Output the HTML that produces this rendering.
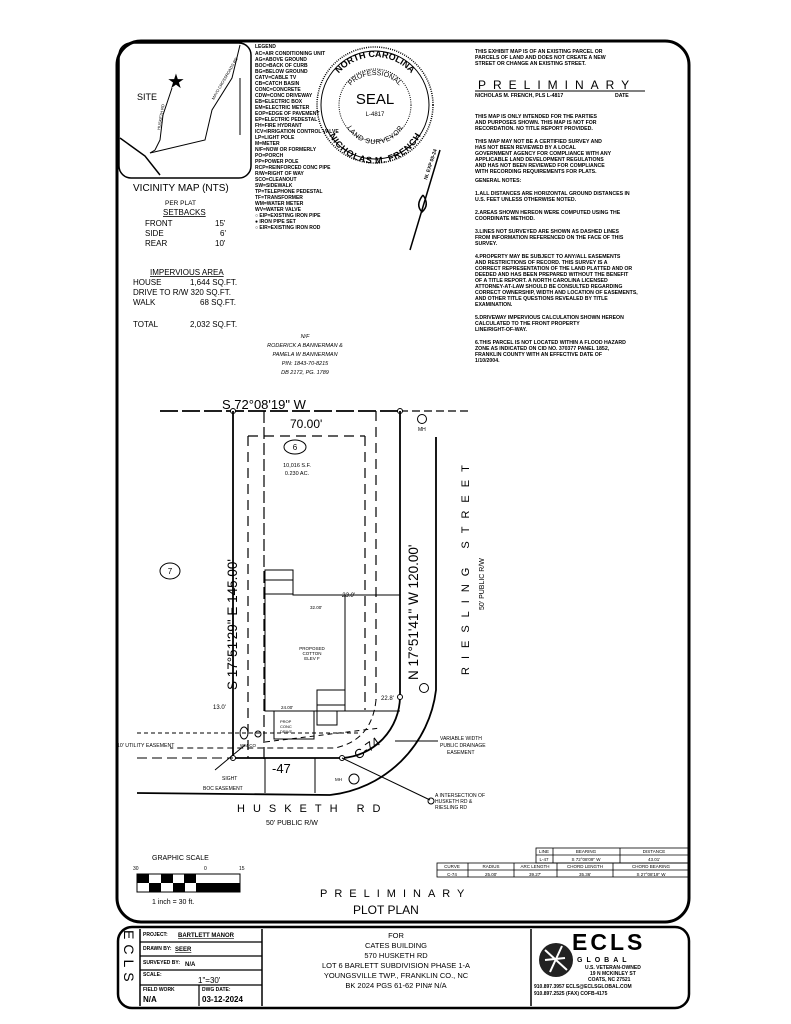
<!DOCTYPE html>
<html><head><meta charset="utf-8"><style>
body{margin:0;background:#fff;}
svg{display:block;font-family:"Liberation Sans",sans-serif;}
.t{font-size:5px;}
</style></head><body>
<svg width="791" height="1024" viewBox="0 0 791 1024" xmlns="http://www.w3.org/2000/svg">
<rect width="791" height="1024" fill="#fff"/>
<defs>
<path id="arcTop" d="M327 105 A48 48 0 0 1 423 105"/>
<path id="arcTop2" d="M342 108 A33 33 0 0 1 408 108"/>
<path id="arcBot" d="M330 112 A45 45 0 0 0 420 112"/>
<path id="arcBot2" d="M347 112 A28 28 0 0 0 403 112"/>
</defs>
<rect x="117" y="41" width="572" height="881" rx="24" fill="none" stroke="#000" stroke-width="3"/>
<!-- vicinity map -->
<rect x="119" y="43" width="132" height="135" rx="12" fill="none" stroke="#000" stroke-width="1.5"/>
<text x="137" y="100" font-size="9">SITE</text>
<text x="167" y="88" font-size="20">★</text>
<path d="M172 88 L163 115 L160 140 L155 150 L150 153" fill="none" stroke="#000"/>
<path d="M120 138 L145 156 L160 175" fill="none" stroke="#000" stroke-width="1.5"/>
<path d="M150 153 L205 140 L212 110 L232 78 L240 45" fill="none" stroke="#000"/>
<path d="M240 78 L240 135" fill="none" stroke="#000"/>
<text transform="translate(160,130) rotate(-80)" font-size="4">HUSKETH RD</text>
<text transform="translate(214,100) rotate(-60)" font-size="4">MAYO CROSSROADS RD</text>
<text x="133" y="191" font-size="10">VICINITY MAP (NTS)</text>
<text x="165" y="205" font-size="6.5">PER PLAT</text>
<text x="163" y="215" font-size="8" text-decoration="underline">SETBACKS</text>
<text x="145" y="226" font-size="8">FRONT</text><text x="215" y="226" font-size="8">15'</text>
<text x="145" y="236" font-size="8">SIDE</text><text x="220" y="236" font-size="8">6'</text>
<text x="145" y="246" font-size="8">REAR</text><text x="215" y="246" font-size="8">10'</text>
<text x="150" y="275" font-size="8" text-decoration="underline">IMPERVIOUS AREA</text>
<text x="133" y="285" font-size="8">HOUSE</text><text x="190" y="285" font-size="8">1,644 SQ.FT.</text>
<text x="133" y="295" font-size="8">DRIVE TO R/W 320 SQ.FT.</text>
<text x="133" y="305" font-size="8">WALK</text><text x="200" y="305" font-size="8">68 SQ.FT.</text>
<text x="133" y="327" font-size="8">TOTAL</text><text x="190" y="327" font-size="8">2,032 SQ.FT.</text>
<!-- legend -->
<g class="t" font-weight="bold">
<text x="255" y="48">LEGEND</text>
<text x="255" y="55">AC=AIR CONDITIONING UNIT</text>
<text x="255" y="61">AG=ABOVE GROUND</text>
<text x="255" y="67">BOC=BACK OF CURB</text>
<text x="255" y="73">BG=BELOW GROUND</text>
<text x="255" y="79">CATV=CABLE TV</text>
<text x="255" y="85">CB=CATCH BASIN</text>
<text x="255" y="91">CONC=CONCRETE</text>
<text x="255" y="97">CDW=CONC DRIVEWAY</text>
<text x="255" y="103">EB=ELECTRIC BOX</text>
<text x="255" y="109">EM=ELECTRIC METER</text>
<text x="255" y="115">EOP=EDGE OF PAVEMENT</text>
<text x="255" y="121">EP=ELECTRIC PEDESTAL</text>
<text x="255" y="127">FH=FIRE HYDRANT</text>
<text x="255" y="133">ICV=IRRIGATION CONTROL VALVE</text>
<text x="255" y="139">LP=LIGHT POLE</text>
<text x="255" y="145">M=METER</text>
<text x="255" y="151">N/F=NOW OR FORMERLY</text>
<text x="255" y="157">PO=PORCH</text>
<text x="255" y="163">PP=POWER POLE</text>
<text x="255" y="169">RCP=REINFORCED CONC PIPE</text>
<text x="255" y="175">R/W=RIGHT OF WAY</text>
<text x="255" y="181">SCO=CLEANOUT</text>
<text x="255" y="187">SW=SIDEWALK</text>
<text x="255" y="193">TP=TELEPHONE PEDESTAL</text>
<text x="255" y="199">TF=TRANSFORMER</text>
<text x="255" y="205">WM=WATER METER</text>
<text x="255" y="211">WV=WATER VALVE</text>
<text x="255" y="217">○ EIP=EXISTING IRON PIPE</text>
<text x="255" y="223">● IRON PIPE SET</text>
<text x="255" y="229">○ EIR=EXISTING IRON ROD</text>
</g>
<!-- seal -->
<circle cx="375" cy="105" r="58" fill="none" stroke="#000" stroke-width="1.5" stroke-dasharray="1 1.2"/>
<circle cx="375" cy="105" r="54" fill="none" stroke="#000" stroke-width="1"/>
<circle cx="375" cy="105" r="36" fill="none" stroke="#000" stroke-width="1" stroke-dasharray="1 1.2"/>
<text x="375" y="104" font-size="15" text-anchor="middle">SEAL</text>
<text x="375" y="116" font-size="6" text-anchor="middle">L-4817</text>
<text font-size="9" font-weight="bold"><textPath href="#arcTop" startOffset="50%" text-anchor="middle">NORTH CAROLINA</textPath></text>
<text font-size="7"><textPath href="#arcTop2" startOffset="50%" text-anchor="middle">PROFESSIONAL</textPath></text>
<text font-size="9" font-weight="bold"><textPath href="#arcBot" startOffset="50%" text-anchor="middle" dominant-baseline="hanging">NICHOLAS M. FRENCH</textPath></text>
<text font-size="7"><textPath href="#arcBot2" startOffset="50%" text-anchor="middle" dominant-baseline="hanging">LAND SURVEYOR</textPath></text>
<path d="M440 150 L410 250" stroke="#000" stroke-width="1.5"/>
<path d="M423 195 Q415 205 422 212 Q430 205 423 195" fill="none" stroke="#000" stroke-width="1.5"/>
<text transform="translate(427,180) rotate(-72)" font-size="5" font-weight="bold">NI. EXP 05-24</text>
<!-- notes -->
<g font-size="5.2" font-weight="bold">
<text x="475" y="53">THIS EXHIBIT MAP IS OF AN EXISTING PARCEL OR</text>
<text x="475" y="59">PARCELS OF LAND AND DOES NOT CREATE A NEW</text>
<text x="475" y="65">STREET OR CHANGE AN EXISTING STREET.</text>
<text x="475" y="97">NICHOLAS M. FRENCH, PLS L-4817</text><text x="615" y="97">DATE</text>
<text x="475" y="118">THIS MAP IS ONLY INTENDED FOR THE PARTIES</text>
<text x="475" y="124">AND PURPOSES SHOWN. THIS MAP IS NOT FOR</text>
<text x="475" y="130">RECORDATION. NO TITLE REPORT PROVIDED.</text>
<text x="475" y="143">THIS MAP MAY NOT BE A CERTIFIED SURVEY AND</text>
<text x="475" y="149">HAS NOT BEEN REVIEWED BY A LOCAL</text>
<text x="475" y="155">GOVERNMENT AGENCY FOR COMPLIANCE WITH ANY</text>
<text x="475" y="161">APPLICABLE LAND DEVELOPMENT REGULATIONS</text>
<text x="475" y="167">AND HAS NOT BEEN REVIEWED FOR COMPLIANCE</text>
<text x="475" y="173">WITH RECORDING REQUIREMENTS FOR PLATS.</text>
<text x="475" y="182">GENERAL NOTES:</text>
<text x="475" y="195">1.ALL DISTANCES ARE HORIZONTAL GROUND DISTANCES IN</text>
<text x="475" y="201">U.S. FEET UNLESS OTHERWISE NOTED.</text>
<text x="475" y="214">2.AREAS SHOWN HEREON WERE COMPUTED USING THE</text>
<text x="475" y="220">COORDINATE METHOD.</text>
<text x="475" y="233">3.LINES NOT SURVEYED ARE SHOWN AS DASHED LINES</text>
<text x="475" y="239">FROM INFORMATION REFERENCED ON THE FACE OF THIS</text>
<text x="475" y="245">SURVEY.</text>
<text x="475" y="258">4.PROPERTY MAY BE SUBJECT TO ANY/ALL EASEMENTS</text>
<text x="475" y="264">AND RESTRICTIONS OF RECORD. THIS SURVEY IS A</text>
<text x="475" y="270">CORRECT REPRESENTATION OF THE LAND PLATTED AND OR</text>
<text x="475" y="276">DEEDED AND HAS BEEN PREPARED WITHOUT THE BENEFIT</text>
<text x="475" y="282">OF A TITLE REPORT. A NORTH CAROLINA LICENSED</text>
<text x="475" y="288">ATTORNEY-AT-LAW SHOULD BE CONSULTED REGARDING</text>
<text x="475" y="294">CORRECT OWNERSHIP, WIDTH AND LOCATION OF EASEMENTS,</text>
<text x="475" y="300">AND OTHER TITLE QUESTIONS REVEALED BY TITLE</text>
<text x="475" y="306">EXAMINATION.</text>
<text x="475" y="319">5.DRIVEWAY IMPERVIOUS CALCULATION SHOWN HEREON</text>
<text x="475" y="325">CALCULATED TO THE FRONT PROPERTY</text>
<text x="475" y="331">LINE/RIGHT-OF-WAY.</text>
<text x="475" y="344">6.THIS PARCEL IS NOT LOCATED WITHIN A FLOOD HAZARD</text>
<text x="475" y="350">ZONE AS INDICATED ON CID NO. 370377 PANEL 1852,</text>
<text x="475" y="356">FRANKLIN COUNTY WITH AN EFFECTIVE DATE OF</text>
<text x="475" y="362">1/10/2004.</text>
</g>
<text x="478" y="89" font-size="12" letter-spacing="7">PRELIMINARY</text>
<line x1="475" y1="91" x2="645" y2="91" stroke="#000"/>
<g font-size="5.5" font-style="italic" text-anchor="middle">
<text x="305" y="338">N/F</text>
<text x="305" y="347">RODERICK A BANNERMAN &amp;</text>
<text x="305" y="356">PAMELA W BANNERMAN</text>
<text x="305" y="365">PIN: 1843-70-8215</text>
<text x="305" y="374">DB 2172, PG. 1789</text>
</g>
<text x="222" y="409" font-size="13">S 72°08'19" W</text>
<text x="290" y="428" font-size="12">70.00'</text>
<line x1="160" y1="411" x2="400" y2="411" stroke="#000" stroke-width="1.8" stroke-dasharray="18 4"/>
<line x1="400" y1="411" x2="470" y2="411" stroke="#000" stroke-width="1.2" stroke-dasharray="8 4"/>
<circle cx="233" cy="411" r="2.5" fill="#fff" stroke="#000"/>
<circle cx="400" cy="411" r="2.5" fill="#fff" stroke="#000"/>
<circle cx="422" cy="419" r="4.5" fill="none" stroke="#000"/><text x="418" y="431" class="t">MH</text>
<line x1="233" y1="411" x2="233" y2="758" stroke="#000" stroke-width="1.8"/>
<line x1="400" y1="411" x2="400" y2="697" stroke="#000" stroke-width="1.8"/>
<line x1="264" y1="411" x2="264" y2="760" stroke="#000" stroke-width="1.2" stroke-dasharray="12 4"/>
<line x1="248" y1="436" x2="248" y2="758" stroke="#000" stroke-width="1.2" stroke-dasharray="10 6"/>
<line x1="248" y1="436" x2="365" y2="436" stroke="#000" stroke-width="1.2" stroke-dasharray="10 6"/>
<line x1="365" y1="436" x2="365" y2="710" stroke="#000" stroke-width="1.2" stroke-dasharray="10 6"/>
<line x1="376" y1="411" x2="376" y2="700" stroke="#000" stroke-width="1.2" stroke-dasharray="10 6"/>
<path d="M376 700 Q372 740 335 748 L170 748" fill="none" stroke="#000" stroke-dasharray="6 4"/>
<path d="M233 758 L342 758" stroke="#000" stroke-width="1.8"/>
<path d="M342 758 A62 62 0 0 0 400 697" fill="none" stroke="#000" stroke-width="1.8"/>
<circle cx="233" cy="758" r="2.5" fill="#fff" stroke="#000"/>
<circle cx="342" cy="758" r="2.5" fill="#fff" stroke="#000"/>
<circle cx="400" cy="697" r="2.5" fill="#fff" stroke="#000"/>
<line x1="137" y1="758" x2="233" y2="758" stroke="#000" stroke-dasharray="10 5"/>
<line x1="137" y1="733" x2="360" y2="733" stroke="#000" stroke-dasharray="4 3"/>
<line x1="265" y1="742" x2="380" y2="728" stroke="#000" stroke-dasharray="5 4"/>
<path d="M436 437 L436 690 A120 120 0 0 1 330 795" fill="none" stroke="#000" stroke-width="1.8"/>
<line x1="137" y1="793" x2="330" y2="795" stroke="#000" stroke-width="1.8"/>
<line x1="265" y1="758" x2="265" y2="793" stroke="#000"/>
<line x1="315" y1="758" x2="315" y2="793" stroke="#000"/>
<path d="M265 580 L293 580 L293 595 L400 595 M345 595 L345 705 M265 580 L265 711 L345 711 L345 705 L317 705 L317 711" fill="none" stroke="#000"/>
<rect x="265" y="570" width="28" height="24" fill="none" stroke="#000"/>
<rect x="317" y="690" width="28" height="15" fill="none" stroke="#000"/>
<rect x="274" y="711" width="40" height="28" fill="none" stroke="#000"/>
<path d="M317 711 L317 725 L337 725 L337 711" fill="none" stroke="#000"/>
<line x1="400" y1="711" x2="345" y2="711" stroke="#000"/>
<ellipse cx="295" cy="447" rx="11" ry="7" fill="none" stroke="#000"/>
<text x="295" y="450" font-size="8" text-anchor="middle">6</text>
<text x="297" y="467" font-size="5.5" text-anchor="middle">10,016 S.F.</text>
<text x="297" y="475" font-size="5.5" text-anchor="middle">0.230 AC.</text>
<text x="312" y="650" font-size="4.5" text-anchor="middle">PROPOSED</text>
<text x="312" y="655" font-size="4.5" text-anchor="middle">COTTON</text>
<text x="312" y="660" font-size="4.5" text-anchor="middle">ELEV F</text>
<text x="342" y="597" font-size="6" font-style="italic">23.0'</text>
<text x="310" y="609" font-size="4.5">32.00'</text>
<text x="281" y="709" font-size="4.5">24.00'</text>
<text x="280" y="723" font-size="4">PROP</text><text x="280" y="728" font-size="4">CONC</text><text x="280" y="733" font-size="4">DRIVE</text>
<text x="381" y="700" font-size="6">22.8'</text>
<text x="213" y="709" font-size="6">13.0'</text>
<text transform="translate(237,690) rotate(-90)" font-size="13.5">S 17°51'29" E 145.00'</text>
<text transform="translate(418,680) rotate(-90)" font-size="13.5">N 17°51'41" W 120.00'</text>
<text transform="translate(469,675) rotate(-90)" font-size="11" letter-spacing="8">RIESLING STREET</text>
<text transform="translate(484,610) rotate(-90)" font-size="7">50' PUBLIC R/W</text>
<ellipse cx="170" cy="571" rx="10" ry="8" fill="none" stroke="#000"/>
<text x="170" y="574" font-size="8" text-anchor="middle">7</text>
<circle cx="424" cy="688" r="4.5" fill="none" stroke="#000"/>
<text x="117" y="747" font-size="5.2">10' UTILITY EASEMENT</text>
<ellipse cx="244" cy="733" rx="4" ry="6" fill="none" stroke="#000"/>
<circle cx="258" cy="734" r="3" fill="none" stroke="#000"/>
<text x="240" y="747" font-size="4.5">WM CO</text>
<text x="272" y="773" font-size="13">-47</text>
<text transform="translate(358,760) rotate(-35)" font-size="13">C-74</text>
<circle cx="354" cy="779" r="5" fill="none" stroke="#000"/>
<text x="335" y="781" font-size="4.5">MH</text>
<path d="M342 758 L430 800" stroke="#000"/>
<circle cx="431" cy="801" r="3" fill="none" stroke="#000"/>
<text x="435" y="797" font-size="5">A INTERSECTION OF</text>
<text x="435" y="803" font-size="5">HUSKETH RD &amp;</text>
<text x="435" y="809" font-size="5">RIESLING RD</text>
<line x1="395" y1="741" x2="438" y2="741" stroke="#000"/>
<text x="440" y="740" font-size="5">VARIABLE WIDTH</text>
<text x="440" y="747" font-size="5">PUBLIC DRAINAGE</text>
<text x="447" y="754" font-size="5">EASEMENT</text>
<line x1="215" y1="770" x2="245" y2="745" stroke="#000"/>
<text x="222" y="780" font-size="5">SIGHT</text>
<text x="203" y="790" font-size="5">BOC EASEMENT</text>
<text x="237" y="812" font-size="11" letter-spacing="8">HUSKETH RD</text>
<text x="266" y="825" font-size="7">50' PUBLIC R/W</text>
<g stroke="#000" fill="none" stroke-width="0.8">
<rect x="536" y="848" width="153" height="15"/>
<line x1="536" y1="855" x2="689" y2="855"/>
<line x1="553" y1="848" x2="553" y2="863"/><line x1="620" y1="848" x2="620" y2="863"/>
<rect x="437" y="863" width="252" height="14"/>
<line x1="437" y1="870" x2="689" y2="870"/>
<line x1="468" y1="863" x2="468" y2="877"/><line x1="514" y1="863" x2="514" y2="877"/>
<line x1="557" y1="863" x2="557" y2="877"/><line x1="613" y1="863" x2="613" y2="877"/>
</g>
<g font-size="4.5" text-anchor="middle">
<text x="544" y="853">LINE</text><text x="586" y="853">BEARING</text><text x="654" y="853">DISTANCE</text>
<text x="544" y="861">L-47</text><text x="586" y="861">S 72°08'09" W</text><text x="654" y="861">43.01'</text>
<text x="452" y="868">CURVE</text><text x="491" y="868">RADIUS</text><text x="535" y="868">ARC LENGTH</text><text x="585" y="868">CHORD LENGTH</text><text x="651" y="868">CHORD BEARING</text>
<text x="452" y="876">C-74</text><text x="491" y="876">25.00'</text><text x="535" y="876">39.27'</text><text x="585" y="876">35.36'</text><text x="651" y="876">S 27°08'19" W</text>
</g>
<text x="152" y="860" font-size="7">GRAPHIC SCALE</text>
<text x="133" y="870" font-size="5">30</text><text x="204" y="870" font-size="5">0</text><text x="239" y="870" font-size="5">15</text>
<rect x="137" y="874" width="103" height="18" fill="none" stroke="#000"/>
<g fill="#000">
<rect x="137" y="874" width="12" height="9"/><rect x="161" y="874" width="12" height="9"/><rect x="184" y="874" width="12" height="9"/>
<rect x="149" y="883" width="12" height="9"/><rect x="173" y="883" width="12" height="9"/><rect x="196" y="883" width="10" height="9"/>
<rect x="206" y="883" width="34" height="9"/>
</g>
<text x="152" y="904" font-size="7">1 inch = 30 ft.</text>
<text x="320" y="897" font-size="11" letter-spacing="7">PRELIMINARY</text>
<text x="353" y="914" font-size="12">PLOT PLAN</text>
<rect x="118" y="927" width="571" height="81" rx="14" fill="none" stroke="#000" stroke-width="2.5"/>
<line x1="140" y1="929" x2="140" y2="1006" stroke="#000" stroke-width="1.5"/>
<line x1="262" y1="929" x2="262" y2="1006" stroke="#000" stroke-width="1.5"/>
<line x1="531" y1="929" x2="531" y2="1006" stroke="#000" stroke-width="1.5"/>
<g stroke="#000" stroke-width="1.2">
<line x1="140" y1="942" x2="262" y2="942"/><line x1="140" y1="956" x2="262" y2="956"/>
<line x1="140" y1="970" x2="262" y2="970"/><line x1="140" y1="985" x2="262" y2="985"/>
<line x1="199" y1="985" x2="199" y2="1006"/>
</g>
<text transform="translate(124,930) rotate(90)" font-size="14" letter-spacing="5">ECLS</text>
<g font-size="5" font-weight="bold">
<text x="143" y="936">PROJECT:</text><text x="178" y="937" font-size="6" text-decoration="underline">BARTLETT MANOR</text>
<text x="143" y="950">DRAWN BY:</text><text x="175" y="951" font-size="6" text-decoration="underline">SEER</text>
<text x="143" y="964">SURVEYED BY:</text><text x="185" y="966" font-size="6">N/A</text>
<text x="143" y="976">SCALE:</text><text x="198" y="983" font-size="8" font-weight="normal">1"=30'</text>
<text x="143" y="991">FIELD WORK</text><text x="143" y="1002" font-size="8">N/A</text>
<text x="202" y="991">DWG DATE:</text><text x="202" y="1002" font-size="8">03-12-2024</text>
</g>
<g font-size="7.5" text-anchor="middle">
<text x="396" y="938">FOR</text>
<text x="396" y="948">CATES BUILDING</text>
<text x="396" y="958">570 HUSKETH RD</text>
<text x="396" y="968">LOT 6 BARLETT SUBDIVISION PHASE 1-A</text>
<text x="396" y="978">YOUNGSVILLE TWP., FRANKLIN CO., NC</text>
<text x="396" y="988">BK 2024 PGS 61-62 PIN# N/A</text>
</g>
<circle cx="556" cy="960" r="17" fill="#222"/>
<path d="M545 950 L567 970 M545 960 L565 958 M550 972 L562 946" stroke="#fff" stroke-width="2"/>
<text x="572" y="950" font-size="23" font-weight="bold" letter-spacing="3">ECLS</text>
<text x="577" y="962" font-size="7" font-weight="bold" letter-spacing="4">GLOBAL</text>
<g font-size="5" font-weight="bold">
<text x="585" y="969">U.S. VETERAN-OWNED</text>
<text x="590" y="975">19 N MCKINLEY ST</text>
<text x="588" y="981">COATS, NC 27521</text>
<text x="534" y="988">910.897.3957 ECLS@ECLSGLOBAL.COM</text>
<text x="534" y="995">910.897.2525 (FAX) COFB-4175</text>
</g>
</svg>
</body></html>
